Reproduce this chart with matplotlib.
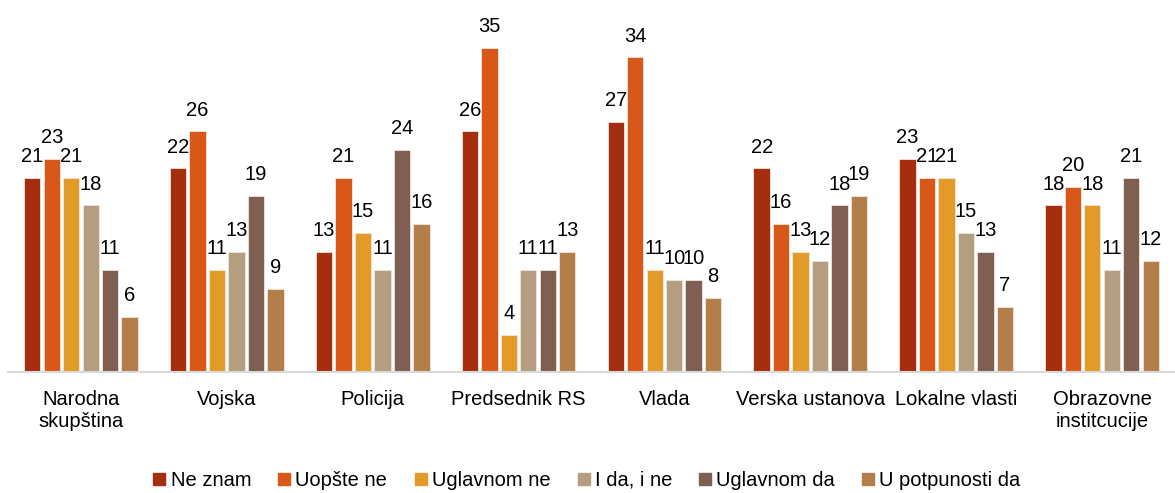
import numpy as np
import matplotlib
matplotlib.use("Agg")
import matplotlib.pyplot as plt
from matplotlib.lines import Line2D

plt.rcParams['font.family'] = ['Liberation Sans', 'DejaVu Sans']

categories = ["Narodna\nskupština", "Vojska", "Policija", "Predsednik RS",
              "Vlada", "Verska ustanova", "Lokalne vlasti", "Obrazovne\ninstitcucije"]
series = ["Ne znam", "Uopšte ne", "Uglavnom ne", "I da, i ne", "Uglavnom da", "U potpunosti da"]
ne_znam = [21, 22, 13, 26, 27, 22, 23, 18]
uopste_ne = [23, 26, 21, 35, 34, 16, 21, 20]
uglavnom_ne = [21, 11, 15, 4, 11, 13, 21, 18]
i_da_i_ne = [18, 13, 11, 11, 10, 12, 15, 11]
uglavnom_da = [11, 19, 24, 11, 10, 18, 13, 21]
u_potpunosti = [6, 9, 16, 13, 8, 19, 7, 12]
values = [ne_znam, uopste_ne, uglavnom_ne, i_da_i_ne, uglavnom_da, u_potpunosti]
colors = ["#A52E0F", "#D75818", "#E29A29", "#B49E7F", "#7E5F51", "#B47E4A"]

fig = plt.figure(figsize=(11.75, 4.93), dpi=100)
ax = fig.add_axes([8 / 1175, 121 / 493, 1 - 8 / 1175, 370 / 493])

x = np.arange(len(categories))
step = 0.1335
width = 0.112
for i, (name, vals, col) in enumerate(zip(series, values, colors)):
    pos = x + (i - 2.5) * step
    bars = ax.bar(pos, vals, width, color=col, edgecolor="#f2e6dc", linewidth=0.6, label=name)
    for b, v in zip(bars, vals):
        ax.annotate(str(v), (b.get_x() + b.get_width() / 2, v), xytext=(0, 11.5),
                    textcoords="offset points", ha="center", va="baseline", fontsize=14.5)

ax.set_xlim(-0.5, len(categories) - 0.5)
ax.set_ylim(0, 40)
ax.set_yticks([])
ax.set_xticks(x)
ax.set_xticklabels(categories, fontsize=14.5, linespacing=1.2)
ax.tick_params(axis="x", length=0, pad=13)
for s in ["top", "right", "left"]:
    ax.spines[s].set_visible(False)
ax.spines["bottom"].set_color("#d9d9d9")
ax.spines["bottom"].set_linewidth(1.5)

handles = [Line2D([], [], marker="s", linestyle="none", markersize=8, color=c) for c in colors]
fig.legend(handles, series, loc="center", bbox_to_anchor=(0.5, 0.026), ncol=6,
           frameon=False, fontsize=14.5, handlelength=0.5, handletextpad=0.3,
           columnspacing=1.4)

fig.savefig("out.png", dpi=100)
